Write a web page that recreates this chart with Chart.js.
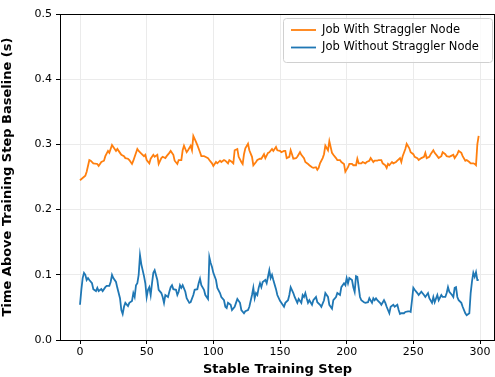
<!DOCTYPE html>
<html>
<head>
<meta charset="utf-8">
<script src="https://cdn.jsdelivr.net/npm/chart.js@4.4.0/dist/chart.umd.min.js"></script>
<style>
  html, body { margin: 0; padding: 0; background: #fff; overflow: hidden; }
</style>
</head>
<body>
<canvas id="chart" width="495" height="377"></canvas>
<script>
// Series labels
const seriesLabels = ['Job With Straggler Node', 'Job Without Straggler Node'];

// [step, seconds]
const withStraggler = [
  [0,0.245],[4,0.252],[5,0.258],[7,0.276],[8,0.275],[10,0.271],[13,0.270],[14,0.267],[16,0.273],[18,0.275],
  [19,0.282],[21,0.290],[22,0.287],[24,0.299],[25,0.296],[27,0.290],[28,0.293],[30,0.287],[31,0.284],[33,0.282],
  [34,0.279],[36,0.278],[37,0.276],[39,0.270],[40,0.275],[41,0.281],[43,0.293],[44,0.290],[46,0.286],[48,0.282],
  [49,0.284],[50,0.276],[52,0.271],[53,0.278],[55,0.284],[56,0.281],[58,0.284],[59,0.270],[61,0.279],[62,0.281],
  [64,0.279],[65,0.282],[67,0.287],[68,0.290],[70,0.284],[71,0.275],[73,0.270],[74,0.276],[76,0.276],[77,0.291],
  [78,0.298],[80,0.288],[81,0.291],[83,0.298],[84,0.291],[85,0.313],[87,0.304],[88,0.299],[90,0.288],[91,0.282],
  [93,0.282],[94,0.281],[96,0.279],[97,0.276],[99,0.271],[100,0.267],[102,0.273],[103,0.271],[105,0.275],[106,0.273],
  [108,0.276],[109,0.275],[111,0.271],[112,0.276],[114,0.273],[115,0.271],[116,0.291],[118,0.293],[119,0.281],[121,0.273],
  [122,0.270],[123,0.285],[124,0.294],[126,0.301],[127,0.291],[129,0.281],[130,0.268],[132,0.273],[133,0.276],[135,0.278],
  [136,0.278],[138,0.285],[139,0.279],[141,0.287],[142,0.288],[144,0.293],[145,0.290],[147,0.296],[148,0.291],[150,0.290],
  [151,0.288],[153,0.290],[154,0.290],[155,0.279],[157,0.281],[158,0.291],[159,0.285],[160,0.278],[162,0.279],[163,0.281],
  [165,0.288],[166,0.284],[168,0.279],[169,0.273],[171,0.270],[172,0.268],[174,0.265],[175,0.264],[177,0.265],[178,0.261],
  [179,0.264],[180,0.271],[182,0.279],[183,0.285],[184,0.298],[186,0.291],[187,0.305],[189,0.287],[190,0.284],[192,0.279],
  [193,0.276],[195,0.276],[196,0.273],[198,0.270],[199,0.258],[201,0.265],[202,0.270],[204,0.270],[205,0.268],[207,0.268],
  [208,0.278],[209,0.271],[211,0.271],[212,0.273],[214,0.271],[215,0.273],[217,0.275],[218,0.279],[220,0.273],[221,0.275],
  [223,0.275],[224,0.276],[226,0.276],[227,0.271],[229,0.268],[230,0.264],[231,0.270],[232,0.268],[234,0.273],[235,0.271],
  [237,0.273],[238,0.275],[240,0.279],[241,0.273],[242,0.282],[244,0.293],[245,0.301],[247,0.294],[248,0.288],[250,0.285],
  [251,0.281],[253,0.279],[254,0.276],[256,0.279],[258,0.281],[259,0.287],[260,0.279],[262,0.281],[263,0.285],[265,0.291],
  [266,0.287],[268,0.282],[269,0.279],[271,0.282],[272,0.288],[274,0.285],[275,0.282],[277,0.281],[278,0.282],[280,0.284],
  [281,0.279],[283,0.285],[284,0.290],[286,0.287],[287,0.282],[289,0.275],[290,0.276],[292,0.273],[293,0.271],[295,0.271],
  [296,0.270],[297,0.268],[298,0.300],[299,0.313]
];

const withoutStraggler = [
  [0,0.054],[1,0.077],[2,0.095],[3,0.103],[4,0.100],[5,0.092],[6,0.095],[7,0.092],[9,0.087],[10,0.078],
  [12,0.075],[13,0.080],[14,0.075],[16,0.078],[17,0.075],[19,0.081],[20,0.083],[22,0.083],[23,0.089],[24,0.100],
  [25,0.095],[27,0.089],[28,0.080],[30,0.064],[31,0.046],[32,0.040],[33,0.051],[34,0.057],[36,0.052],[37,0.057],
  [39,0.060],[40,0.072],[41,0.066],[42,0.084],[43,0.087],[44,0.100],[45,0.130],[46,0.116],[48,0.098],[49,0.087],
  [50,0.066],[51,0.077],[52,0.081],[53,0.069],[54,0.087],[55,0.103],[56,0.107],[58,0.092],[59,0.077],[61,0.072],
  [62,0.066],[63,0.057],[64,0.069],[66,0.066],[67,0.074],[68,0.081],[69,0.084],[70,0.078],[72,0.077],[73,0.069],
  [74,0.074],[75,0.084],[76,0.080],[77,0.084],[79,0.074],[80,0.064],[82,0.057],[83,0.058],[85,0.069],[86,0.077],
  [88,0.078],[89,0.087],[90,0.094],[91,0.084],[93,0.077],[94,0.069],[96,0.063],[97,0.127],[98,0.118],[99,0.112],
  [100,0.103],[102,0.092],[103,0.080],[105,0.072],[106,0.066],[108,0.061],[109,0.051],[110,0.049],[111,0.057],[113,0.054],
  [114,0.046],[116,0.051],[117,0.057],[118,0.063],[120,0.057],[121,0.046],[123,0.041],[124,0.044],[126,0.046],[127,0.051],
  [129,0.069],[130,0.080],[131,0.064],[132,0.072],[133,0.069],[134,0.080],[135,0.087],[136,0.081],[137,0.089],[139,0.092],
  [140,0.087],[141,0.097],[142,0.107],[143,0.095],[144,0.100],[145,0.092],[147,0.078],[148,0.069],[150,0.060],[151,0.057],
  [153,0.051],[154,0.057],[156,0.061],[157,0.069],[158,0.081],[160,0.072],[161,0.066],[163,0.057],[164,0.063],[166,0.057],
  [167,0.069],[168,0.066],[169,0.072],[170,0.064],[171,0.057],[172,0.061],[174,0.054],[175,0.061],[177,0.066],[178,0.058],
  [180,0.054],[181,0.051],[183,0.061],[184,0.072],[186,0.066],[187,0.054],[189,0.048],[190,0.061],[192,0.066],[193,0.072],
  [195,0.069],[196,0.081],[198,0.087],[199,0.084],[200,0.095],[201,0.087],[202,0.095],[204,0.092],[205,0.081],[206,0.074],
  [207,0.098],[208,0.097],[209,0.081],[210,0.066],[211,0.061],[213,0.058],[214,0.057],[216,0.058],[217,0.064],[219,0.057],
  [220,0.064],[221,0.061],[222,0.064],[223,0.061],[225,0.057],[226,0.054],[228,0.061],[229,0.057],[230,0.051],[232,0.041],
  [233,0.051],[235,0.054],[236,0.051],[238,0.054],[239,0.046],[240,0.040],[241,0.041],[243,0.041],[244,0.043],[246,0.044],
  [247,0.044],[248,0.043],[249,0.061],[250,0.080],[251,0.077],[253,0.072],[254,0.069],[256,0.074],[258,0.069],[259,0.066],
  [261,0.072],[262,0.064],[264,0.057],[265,0.066],[266,0.058],[268,0.069],[269,0.061],[271,0.069],[272,0.066],[274,0.066],
  [275,0.072],[276,0.081],[277,0.074],[279,0.069],[280,0.066],[281,0.080],[282,0.081],[283,0.066],[284,0.061],[286,0.057],
  [287,0.051],[289,0.041],[290,0.038],[292,0.041],[293,0.072],[294,0.090],[295,0.103],[296,0.097],[297,0.104],[298,0.092],
  [299,0.092]
];

// Axis ticks
const xTicks = [0, 50, 100, 150, 200, 250, 300];
const yTicks = [0.0, 0.1, 0.2, 0.3, 0.4, 0.5];
const yTickLabels = ['0.0', '0.1', '0.2', '0.3', '0.4', '0.5'];

const COLORS = ['#ff7f0e', '#1f77b4'];
const FONT = 'DejaVu Sans';

const toPoints = rows => rows.map(([x, y]) => ({ x, y }));

// top/right spines like matplotlib
const framePlugin = {
  id: 'frame',
  afterDraw(chart) {
    const { ctx, chartArea: a } = chart;
    ctx.save();
    ctx.strokeStyle = '#000';
    ctx.lineWidth = 1;
    ctx.strokeRect(a.left + 0.5, a.top + 0.5, a.right - a.left - 1, a.bottom - a.top);
    ctx.restore();
  }
};

// matplotlib-style legend box in the upper right
const boxLegend = {
  id: 'boxLegend',
  afterDraw(chart) {
    const { ctx, chartArea: a } = chart;
    const w = 209, h = 44;
    const x = a.right - 3 - w, y = a.top + 4;
    ctx.save();
    ctx.beginPath();
    ctx.roundRect(x + 0.5, y + 0.5, w, h, 3);
    ctx.fillStyle = 'rgba(255,255,255,0.8)';
    ctx.fill();
    ctx.strokeStyle = '#d0d0d0';
    ctx.lineWidth = 1;
    ctx.stroke();
    ctx.font = '11.5px "' + FONT + '"';
    ctx.textBaseline = 'middle';
    chart.data.datasets.forEach((ds, i) => {
      const cy = y + 12 + i * 17.5;
      ctx.strokeStyle = ds.borderColor;
      ctx.lineWidth = 1.8;
      ctx.beginPath();
      ctx.moveTo(x + 8, cy);
      ctx.lineTo(x + 33, cy);
      ctx.stroke();
      ctx.fillStyle = '#000';
      ctx.fillText(ds.label, x + 39, cy);
    });
    ctx.restore();
  }
};

new Chart(document.getElementById('chart'), {
  type: 'line',
  data: {
    datasets: [
      { label: seriesLabels[0], data: toPoints(withStraggler), borderColor: COLORS[0] },
      { label: seriesLabels[1], data: toPoints(withoutStraggler), borderColor: COLORS[1] }
    ]
  },
  options: {
    responsive: false,
    animation: false,
    devicePixelRatio: 1,
    layout: { padding: { top: 14, right: 0, left: 0, bottom: 0 } },
    elements: {
      point: { radius: 0 },
      line: { borderWidth: 1.8, tension: 0, fill: false }
    },
    plugins: { legend: { display: false }, tooltip: { enabled: false } },
    scales: {
      x: {
        type: 'linear',
        min: -15,
        max: 311.25,
        afterBuildTicks: s => { s.ticks = xTicks.map(v => ({ value: v })); },
        afterFit: s => { s.height = 37; },
        ticks: { color: '#000', font: { family: FONT, size: 11 }, padding: 2, maxRotation: 0 },
        grid: { color: '#ebebeb', tickColor: '#000', tickLength: 4 },
        border: { color: '#000' },
        title: {
          display: true,
          text: 'Stable Training Step',
          color: '#000',
          font: { family: FONT, size: 13, weight: 'bold' },
          padding: { top: 0, bottom: 0 }
        }
      },
      y: {
        type: 'linear',
        min: 0,
        max: 0.5,
        afterBuildTicks: s => { s.ticks = yTicks.map(v => ({ value: v })); },
        afterFit: s => { s.width = 60; },
        ticks: {
          color: '#000',
          font: { family: FONT, size: 11 },
          padding: 4,
          callback: (v, i) => yTickLabels[i]
        },
        grid: { color: '#ebebeb', tickColor: '#000', tickLength: 4 },
        border: { color: '#000' },
        title: {
          display: true,
          text: 'Time Above Training Step Baseline (s)',
          color: '#000',
          font: { family: FONT, size: 13, weight: 'bold' },
          padding: { top: 0, bottom: 0 }
        }
      }
    }
  },
  plugins: [framePlugin, boxLegend]
});
</script>
</body>
</html>
